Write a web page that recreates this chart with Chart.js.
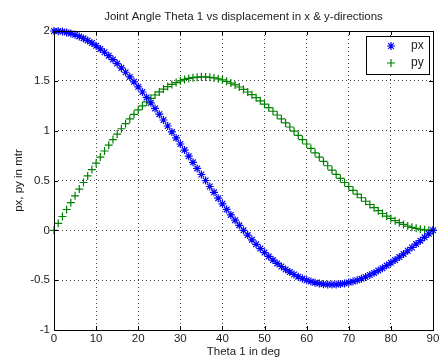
<!DOCTYPE html>
<html>
<head>
<meta charset="utf-8">
<script src="https://cdn.jsdelivr.net/npm/chart.js@4"></script>
<style>html,body{margin:0;padding:0;background:#fff;}canvas{display:block;}</style>
</head>
<body>
<canvas id="c" width="443" height="360"></canvas>
<script>
const titleText = "Joint Angle Theta 1 vs displacement in x & y-directions";
const xLabel = "Theta 1 in deg";
const yLabel = "px, py in mtr";
const seriesNames = ["px", "py"];
const theta = [0,1,2,3,4,5,6,7,8,9,10,11,12,13,14,15,16,17,18,19,20,21,22,23,24,25,26,27,28,29,30,31,32,33,34,35,36,37,38,39,40,41,42,43,44,45,46,47,48,49,50,51,52,53,54,55,56,57,58,59,60,61,62,63,64,65,66,67,68,69,70,71,72,73,74,75,76,77,78,79,80,81,82,83,84,85,86,87,88,89,90];
const px = [2.000,1.998,1.994,1.986,1.976,1.962,1.946,1.926,1.904,1.879,1.851,1.820,1.787,1.752,1.713,1.673,1.630,1.586,1.539,1.490,1.440,1.388,1.334,1.279,1.223,1.165,1.107,1.047,0.987,0.927,0.866,0.805,0.744,0.682,0.621,0.560,0.500,0.440,0.381,0.323,0.266,0.210,0.155,0.102,0.050,0.000,-0.048,-0.095,-0.140,-0.183,-0.223,-0.262,-0.298,-0.332,-0.363,-0.392,-0.419,-0.443,-0.465,-0.484,-0.500,-0.514,-0.525,-0.534,-0.540,-0.543,-0.544,-0.543,-0.539,-0.533,-0.524,-0.513,-0.500,-0.485,-0.468,-0.448,-0.427,-0.404,-0.380,-0.354,-0.326,-0.298,-0.268,-0.237,-0.205,-0.172,-0.138,-0.104,-0.070,-0.035,0.000];
const py = [0.000,0.070,0.139,0.209,0.278,0.346,0.414,0.480,0.546,0.610,0.674,0.735,0.796,0.854,0.911,0.966,1.019,1.070,1.118,1.164,1.208,1.249,1.288,1.324,1.358,1.389,1.417,1.442,1.464,1.483,1.500,1.514,1.524,1.532,1.537,1.540,1.539,1.535,1.529,1.520,1.509,1.495,1.478,1.459,1.438,1.414,1.388,1.361,1.331,1.299,1.266,1.231,1.195,1.157,1.118,1.078,1.037,0.995,0.953,0.910,0.866,0.822,0.778,0.735,0.691,0.648,0.605,0.562,0.521,0.480,0.440,0.401,0.363,0.327,0.292,0.259,0.227,0.197,0.169,0.143,0.119,0.097,0.077,0.059,0.043,0.030,0.020,0.011,0.005,0.001,0.000];
const xTicks = [0,10,20,30,40,50,60,70,80,90];
const yTicks = [-1,-0.5,0,0.5,1,1.5,2];

const FONT = "'Liberation Sans', Arial, sans-serif";
const TXT = "#222";

const framePlugin = {
  id: 'frame',
  afterDatasetsDraw(chart) {
    const {ctx, chartArea: a, scales} = chart;
    ctx.save();
    ctx.strokeStyle = '#000';
    ctx.lineWidth = 1;
    ctx.setLineDash([]);
    ctx.strokeRect(Math.round(a.left) + 0.5, Math.round(a.top) + 0.5, Math.round(a.right - a.left), Math.round(a.bottom - a.top));
    const L = 4;
    ctx.beginPath();
    xTicks.forEach(v => {
      const x = Math.round(scales.x.getPixelForValue(v)) + 0.5;
      ctx.moveTo(x, a.bottom); ctx.lineTo(x, a.bottom - L);
      ctx.moveTo(x, a.top); ctx.lineTo(x, a.top + L);
    });
    yTicks.forEach(v => {
      const y = Math.round(scales.y.getPixelForValue(v)) + 0.5;
      ctx.moveTo(a.left, y); ctx.lineTo(a.left + L, y);
      ctx.moveTo(a.right, y); ctx.lineTo(a.right - L, y);
    });
    ctx.stroke();
    ctx.restore();
  },
  afterDraw(chart) {
    const {ctx, chartArea: a} = chart;
    ctx.save();
    // title centred over the plot area
    ctx.fillStyle = TXT;
    ctx.font = "11.5px " + FONT;
    ctx.textAlign = 'center';
    ctx.textBaseline = 'middle';
    ctx.fillText(titleText, (a.left + a.right) / 2, 17);
    // legend
    const bx = 366.5, by = 36.5, bw = 63, bh = 38;
    ctx.fillStyle = '#fff';
    ctx.fillRect(bx, by, bw, bh);
    ctx.strokeStyle = '#000';
    ctx.lineWidth = 1;
    ctx.strokeRect(bx, by, bw, bh);
    const rows = [46, 63];
    chart.data.datasets.forEach((ds, i) => {
      ctx.strokeStyle = ds.borderColor;
      ctx.fillStyle = ds.borderColor;
      ctx.lineWidth = 1.2;
      Chart.helpers.drawPoint(ctx, {pointStyle: ds.pointStyle, radius: 4, borderWidth: 1.2}, 391, rows[i]);
      ctx.fillStyle = TXT;
      ctx.font = "12px " + FONT;
      ctx.textBaseline = 'middle';
      ctx.textAlign = 'left';
      ctx.fillText(ds.label, 411, rows[i]);
    });
    ctx.restore();
  }
};

new Chart(document.getElementById('c'), {
  type: 'scatter',
  data: {
    datasets: [
      {
        label: seriesNames[0],
        data: theta.map((t, i) => ({x: t, y: px[i]})),
        pointStyle: 'star',
        radius: 4,
        borderColor: '#0000ff',
        backgroundColor: '#0000ff',
        borderWidth: 1.2,
        showLine: false,
        clip: false
      },
      {
        label: seriesNames[1],
        data: theta.map((t, i) => ({x: t, y: py[i]})),
        pointStyle: 'cross',
        radius: 4,
        borderColor: '#008000',
        backgroundColor: '#008000',
        borderWidth: 1.2,
        showLine: false,
        clip: false
      }
    ]
  },
  options: {
    responsive: false,
    animation: false,
    devicePixelRatio: 1,
    layout: {padding: {left: 0, right: 10, top: 31, bottom: 0}},
    plugins: {
      legend: {display: false},
      tooltip: {enabled: false},
      title: {display: false}
    },
    scales: {
      x: {
        type: 'linear',
        min: 0, max: 90,
        afterBuildTicks: s => { s.ticks = xTicks.map(v => ({value: v})); },
        afterFit: s => { s.height = 30; },
        ticks: {color: TXT, font: {family: FONT, size: 11.5}, padding: 2, maxRotation: 0, callback: v => String(v)},
        grid: {color: '#444', drawTicks: false, lineWidth: 1},
        border: {display: false, dash: [1, 3]},
        title: {display: true, text: xLabel, color: TXT, font: {family: FONT, size: 11.5}, padding: {top: 0, bottom: 1}}
      },
      y: {
        type: 'linear',
        min: -1, max: 2,
        afterBuildTicks: s => { s.ticks = yTicks.map(v => ({value: v})); },
        afterFit: s => { s.width = 54; },
        ticks: {color: TXT, font: {family: FONT, size: 11.5}, padding: 4, callback: v => String(v)},
        grid: {color: '#444', drawTicks: false, lineWidth: 1},
        border: {display: false, dash: [1, 3]},
        title: {display: true, text: yLabel, color: TXT, font: {family: FONT, size: 11.5}, padding: {top: 12, bottom: 0}}
      }
    }
  },
  plugins: [framePlugin]
});
</script>
</body>
</html>
